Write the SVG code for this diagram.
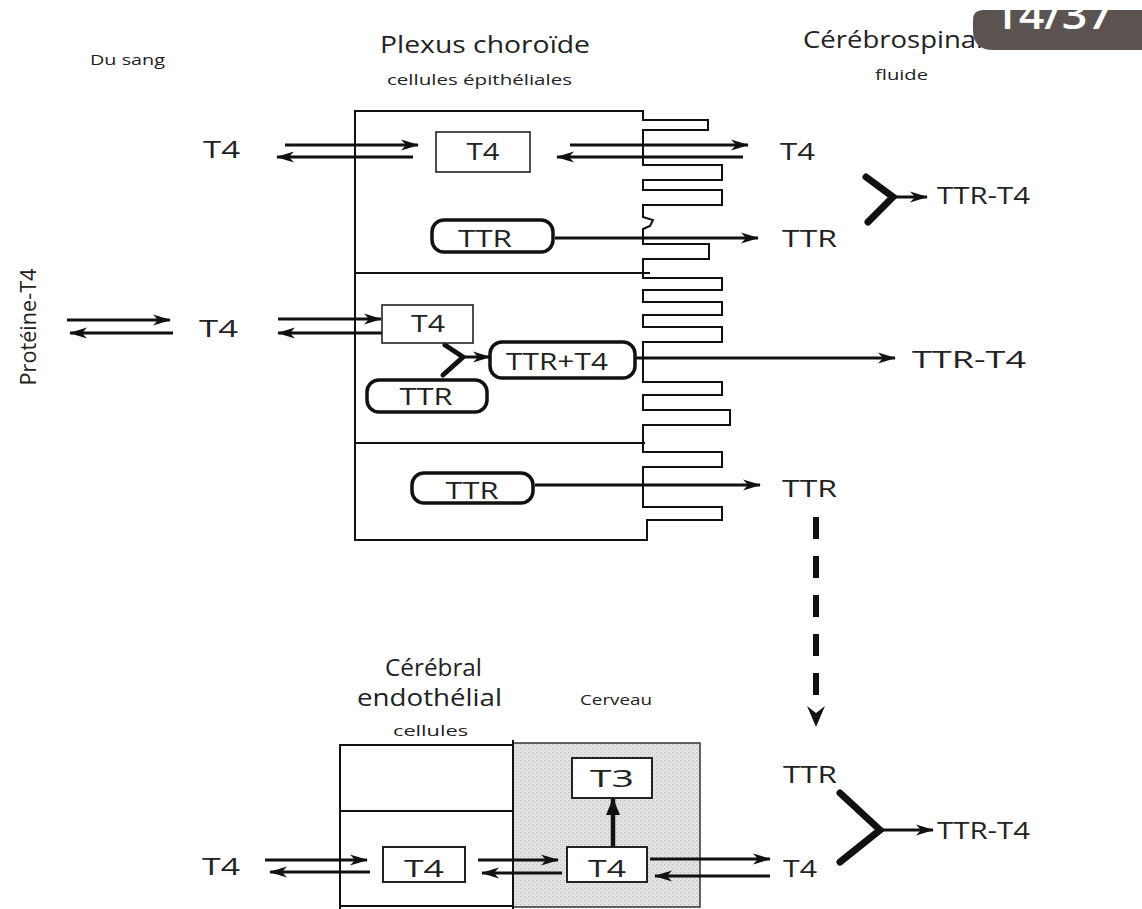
<svg xmlns="http://www.w3.org/2000/svg" width="1142" height="909" viewBox="0 0 1142 909">
<style>
text{font-family:"Open Sans","Liberation Sans",sans-serif;fill:#222}
.lbl{font-size:24px}
.sm{font-size:15px}
.ttl{font-size:23px}
.ln{stroke:#111;stroke-width:2;fill:none}
.ar{stroke:#111;stroke-width:3;fill:none;marker-end:url(#ah)}
.box{fill:#fff;stroke:#222;stroke-width:1.6}
.rbox{fill:#fff;stroke:#111;stroke-width:3.5}
.y{stroke:#111;stroke-width:7;stroke-linecap:round;fill:none}
</style>
<defs>
<marker id="ah" markerUnits="userSpaceOnUse" markerWidth="20" markerHeight="12" refX="17" refY="6" orient="auto"><path d="M0,0.5 L18,6 L0,11.5 L5,6 Z" fill="#111"/></marker>
<marker id="ah2" markerUnits="userSpaceOnUse" markerWidth="18" markerHeight="16" refX="16" refY="8" orient="auto"><path d="M0,1 L17,8 L0,15 Z" fill="#111"/></marker>
<pattern id="dots" width="4" height="4" patternUnits="userSpaceOnUse"><rect width="4" height="4" fill="#e2e2e2"/><rect x="0" y="0" width="1" height="1" fill="#b8b8b8"/><rect x="2" y="2" width="1" height="1" fill="#c4c4c4"/></pattern>
</defs>
<rect width="1142" height="909" fill="#fff"/>

<g id="titles">
<text class="sm" x="90" y="65" textLength="75" lengthAdjust="spacingAndGlyphs">Du sang</text>
<text class="ttl" x="380" y="53" textLength="210" lengthAdjust="spacingAndGlyphs">Plexus choroïde</text>
<text class="sm" x="387" y="85" textLength="185" lengthAdjust="spacingAndGlyphs">cellules épithéliales</text>
<text class="ttl" x="803" y="48" textLength="180" lengthAdjust="spacingAndGlyphs">Cérébrospinal</text>
<text class="sm" x="875" y="80" textLength="53" lengthAdjust="spacingAndGlyphs">fluide</text>
<text class="ttl" x="385" y="676" textLength="97" lengthAdjust="spacingAndGlyphs">Cérébral</text>
<text class="ttl" x="357" y="706" textLength="145" lengthAdjust="spacingAndGlyphs">endothélial</text>
<text style="font-size:14px" x="393" y="736" textLength="75" lengthAdjust="spacingAndGlyphs">cellules</text>
<text style="font-size:14px" x="580" y="705" textLength="72" lengthAdjust="spacingAndGlyphs">Cerveau</text>
<text style="font-size:21px" transform="translate(36,327) rotate(-90)" text-anchor="middle" textLength="117" lengthAdjust="spacingAndGlyphs">Protéine-T4</text>
</g>

<g id="badge">
<path d="M983,10 H1142 V50 H993 Q973,50 973,30 V20 Q973,10 983,10 Z" fill="#5b5351"/>
<text x="993" y="29" style="font-size:40px;font-weight:600;fill:#fff" textLength="120" lengthAdjust="spacingAndGlyphs">14/37</text>
</g>

<g id="plexus-cells">
<path class="ln" stroke-width="2.2" d="M355,111 H643 V120 H708 V130 H643 V165 H722 V180 H643 V190 H722 V205 H643 V217 L653,220 L650,226 L643,229 V244 H709 V259 H643 V278 H722 V290 H643 V302 H722 V315 H643 V327 H722 V342 H643 V382 H722 V395 H643 V410 H730 V425 H643 V452 H722 V467 H643 V507 H722 V520 H647 V540 H355 Z"/>
<line class="ln" x1="355" y1="273" x2="650" y2="273"/>
<line class="ln" x1="355" y1="443" x2="645" y2="443"/>
</g>

<g id="brain-cells">
<rect x="513" y="743" width="187" height="164" fill="url(#dots)" stroke="#333" stroke-width="1.5"/>
<line class="ln" x1="340" y1="745" x2="513" y2="745"/>
<line class="ln" x1="340" y1="811" x2="513" y2="811"/>
<line class="ln" x1="340" y1="906" x2="513" y2="906"/>
<line class="ln" stroke-width="3.2" x1="340" y1="744" x2="340" y2="909"/>
<line class="ln" stroke-width="3.5" x1="513" y1="740" x2="513" y2="909"/>
</g>

<g id="connectors">
<line class="ar" x1="285" y1="145" x2="418" y2="145"/>
<line class="ar" x1="413" y1="157" x2="277" y2="157"/>
<line class="ar" x1="570" y1="145" x2="748" y2="145"/>
<line class="ar" x1="743" y1="157" x2="557" y2="157"/>
<line class="ar" x1="555" y1="238" x2="758" y2="238"/>
<path class="y" d="M866,177 L893,197 L868,222"/>
<line class="ar" x1="893" y1="197" x2="927" y2="197"/>
<line class="ar" x1="67" y1="320" x2="170" y2="320"/>
<line class="ar" x1="173" y1="333" x2="70" y2="333"/>
<line class="ar" x1="278" y1="319" x2="381" y2="319"/>
<line class="ar" x1="382" y1="333" x2="278" y2="333"/>
<path class="y" style="stroke-width:5" d="M445,345 L463,357 L443,375"/>
<line class="ar" x1="463" y1="357" x2="490" y2="357"/>
<line class="ar" x1="635" y1="358" x2="895" y2="358"/>
<line class="ar" x1="535" y1="485" x2="760" y2="485"/>
<line x1="816" y1="517" x2="816" y2="704" stroke="#111" stroke-width="6" stroke-dasharray="22,17"/>
<path d="M807,706 L816,727 L825,706 L816,713 Z" fill="#111"/>
<path class="y" d="M840,793 L880,830 L840,862"/>
<line class="ar" x1="880" y1="830" x2="933" y2="830"/>
<line class="ar" x1="265" y1="860" x2="367" y2="860"/>
<line class="ar" x1="370" y1="872" x2="270" y2="872"/>
<line class="ar" x1="478" y1="860" x2="558" y2="860"/>
<line class="ar" x1="562" y1="873" x2="482" y2="873"/>
<line class="ar" x1="650" y1="859" x2="770" y2="859"/>
<line class="ar" x1="770" y1="876" x2="655" y2="876"/>
<line stroke="#111" stroke-width="4.5" x1="613" y1="847" x2="613" y2="799" marker-end="url(#ah2)"/>
</g>

<g id="n-t4-blood1"><text class="lbl" x="203" y="158" textLength="37" lengthAdjust="spacingAndGlyphs">T4</text></g>
<g id="n-t4-cell1"><rect class="box" x="436" y="132" width="94" height="40"/><text class="lbl" x="483" y="160" text-anchor="middle" textLength="33" lengthAdjust="spacingAndGlyphs">T4</text></g>
<g id="n-t4-csf1"><text class="lbl" x="780" y="160" textLength="35" lengthAdjust="spacingAndGlyphs">T4</text></g>
<g id="n-ttr-cell1"><rect class="rbox" x="432" y="220" width="121" height="32" rx="12"/><text class="lbl" x="485" y="247" text-anchor="middle" textLength="54" lengthAdjust="spacingAndGlyphs">TTR</text></g>
<g id="n-ttr-csf1"><text class="lbl" x="782" y="247" textLength="55" lengthAdjust="spacingAndGlyphs">TTR</text></g>
<g id="n-ttrt4-top"><text class="lbl" x="937" y="204" textLength="93" lengthAdjust="spacingAndGlyphs">TTR-T4</text></g>
<g id="n-t4-blood2"><text class="lbl" x="199" y="337" textLength="39" lengthAdjust="spacingAndGlyphs">T4</text></g>
<g id="n-t4-cell2"><rect class="box" x="382" y="305" width="91" height="38"/><text class="lbl" x="428" y="332" text-anchor="middle" textLength="34" lengthAdjust="spacingAndGlyphs">T4</text></g>
<g id="n-ttrt4-cell"><rect class="rbox" x="490" y="342" width="145" height="36" rx="12"/><text class="lbl" x="557" y="370" text-anchor="middle" textLength="102" lengthAdjust="spacingAndGlyphs">TTR+T4</text></g>
<g id="n-ttr-cell2"><rect class="rbox" x="367" y="380" width="120" height="32" rx="12"/><text class="lbl" x="426" y="405" text-anchor="middle" textLength="53" lengthAdjust="spacingAndGlyphs">TTR</text></g>
<g id="n-ttrt4-mid"><text class="lbl" x="912" y="368" textLength="114" lengthAdjust="spacingAndGlyphs">TTR-T4</text></g>
<g id="n-ttr-cell3"><rect class="rbox" x="412" y="473" width="121" height="30" rx="12"/><text class="lbl" x="472" y="499" text-anchor="middle" textLength="53" lengthAdjust="spacingAndGlyphs">TTR</text></g>
<g id="n-ttr-csf3"><text class="lbl" x="782" y="497" textLength="55" lengthAdjust="spacingAndGlyphs">TTR</text></g>
<g id="n-t3"><rect class="box" style="stroke-width:2" x="572" y="758" width="80" height="40"/><text class="lbl" x="612" y="787" text-anchor="middle" textLength="44" lengthAdjust="spacingAndGlyphs">T3</text></g>
<g id="n-t4-brain"><rect class="box" style="stroke-width:2" x="567" y="847" width="80" height="35"/><text class="lbl" x="607" y="877" text-anchor="middle" textLength="38" lengthAdjust="spacingAndGlyphs">T4</text></g>
<g id="n-t4-endo"><rect class="box" style="stroke-width:2" x="383" y="847" width="82" height="35"/><text class="lbl" x="424" y="877" text-anchor="middle" textLength="40" lengthAdjust="spacingAndGlyphs">T4</text></g>
<g id="n-t4-blood3"><text class="lbl" x="202" y="875" textLength="38" lengthAdjust="spacingAndGlyphs">T4</text></g>
<g id="n-ttr-bottom"><text class="lbl" x="783" y="783" textLength="54" lengthAdjust="spacingAndGlyphs">TTR</text></g>
<g id="n-t4-bottom"><text class="lbl" x="783" y="877" textLength="34" lengthAdjust="spacingAndGlyphs">T4</text></g>
<g id="n-ttrt4-bottom"><text class="lbl" x="937" y="839" textLength="93" lengthAdjust="spacingAndGlyphs">TTR-T4</text></g>
</svg>
